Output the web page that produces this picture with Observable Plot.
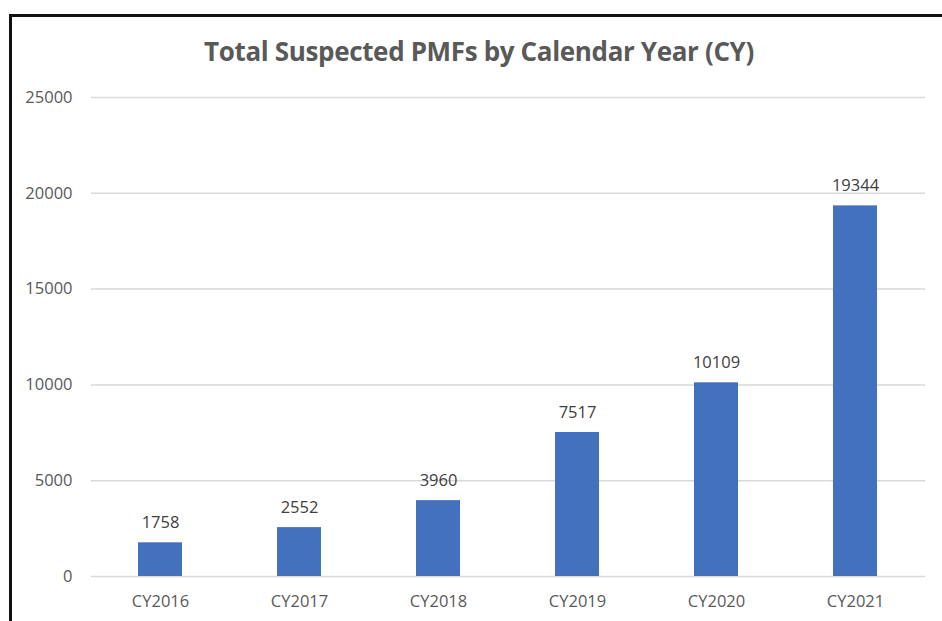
<!DOCTYPE html>
<html>
<head>
<meta charset="utf-8">
<script src="https://cdn.jsdelivr.net/npm/d3@7"></script>
<script src="https://cdn.jsdelivr.net/npm/@observablehq/plot@0.6"></script>
<style>
  html, body { margin: 0; padding: 0; background: #fff; }
  #wrap { position: relative; width: 942px; height: 621px; overflow: hidden; }
  #frame { position: absolute; left: 9px; top: 14px; width: 940px; height: 620px;
           border-top: 3px solid #111; border-left: 3px solid #111; box-sizing: border-box; }
  #title { position: absolute; left: 0; top: 33px; width: 958px; text-align: center;
           font-family: "Open Sans", sans-serif; font-weight: 700; font-size: 26px; color: #595959;
           letter-spacing: -0.35px; }
  #chart { position: absolute; left: 0; top: 0; }
</style>
</head>
<body>
<div id="wrap">
  <div id="frame"></div>
  <div id="chart"></div>
  <div id="title">Total Suspected PMFs by Calendar Year (CY)</div>
</div>
<script>
const years = ["CY2016", "CY2017", "CY2018", "CY2019", "CY2020", "CY2021"];
const values = [1758, 2552, 3960, 7517, 10109, 19344];
const yTicks = [0, 5000, 10000, 15000, 20000, 25000];

const data = years.map((y, i) => ({year: y, value: values[i]}));

const chart = Plot.plot({
  width: 942,
  height: 621,
  marginLeft: 91,
  marginRight: 17,
  marginTop: 97,
  marginBottom: 45,
  style: {fontFamily: "'Open Sans', sans-serif", fontSize: "16.5px", color: "#595959", background: "transparent"},
  x: {domain: years, paddingInner: 0.68, paddingOuter: 0.34, label: null, tickSize: 0, tickPadding: 19},
  y: {domain: [0, 25000], ticks: yTicks, label: null, tickSize: 0, tickPadding: 19, tickFormat: d => String(d)},
  marks: [
    Plot.ruleY(yTicks, {stroke: "#d9d9d9", strokeWidth: 1.5}),
    Plot.barY(data, {x: "year", y: "value", fill: "#4471BE"}),
    Plot.text(data, {x: "year", y: "value", text: d => String(d.value), dy: -20, fill: "#404040", fontSize: 16.5})
  ]
});
document.getElementById("chart").appendChild(chart);
</script>
</body>
</html>
